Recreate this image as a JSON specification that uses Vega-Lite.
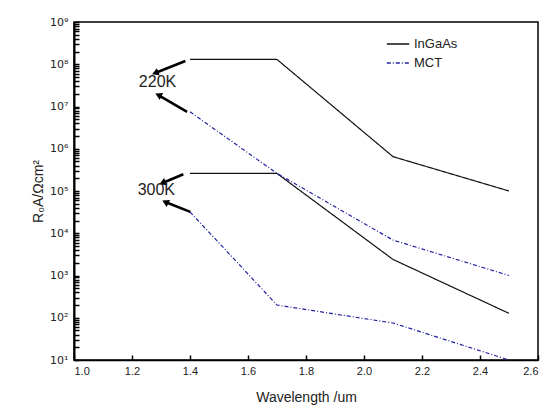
{
  "$schema": "https://vega.github.io/schema/vega-lite/v6.json",
  "autosize": "none",
  "width": 464,
  "height": 338,
  "padding": {"left": 74, "top": 22, "right": 8, "bottom": 50},
  "background": "white",
  "config": {
    "font": "Liberation Sans",
    "view": {"stroke": "black", "strokeWidth": 1.5},
    "axis": {"grid": false, "domainColor": "black", "tickColor": "black", "labelColor": "#222", "titleColor": "#222", "titleFontWeight": "normal", "labelFont": "Liberation Sans", "titleFont": "Liberation Sans"}
  },
  "datasets": {
    "curves": [
      {"material": "InGaAs", "temp": "220K", "wavelength": 1.4, "r0a": 1.3e8},
      {"material": "InGaAs", "temp": "220K", "wavelength": 1.7, "r0a": 1.3e8},
      {"material": "InGaAs", "temp": "220K", "wavelength": 2.1, "r0a": 6.5e5},
      {"material": "InGaAs", "temp": "220K", "wavelength": 2.5, "r0a": 1.0e5},
      {"material": "InGaAs", "temp": "300K", "wavelength": 1.4, "r0a": 2.6e5},
      {"material": "InGaAs", "temp": "300K", "wavelength": 1.7, "r0a": 2.6e5},
      {"material": "InGaAs", "temp": "300K", "wavelength": 2.1, "r0a": 2.4e3},
      {"material": "InGaAs", "temp": "300K", "wavelength": 2.5, "r0a": 127},
      {"material": "MCT", "temp": "220K", "wavelength": 1.4, "r0a": 7.5e6},
      {"material": "MCT", "temp": "220K", "wavelength": 1.7, "r0a": 2.6e5},
      {"material": "MCT", "temp": "220K", "wavelength": 2.1, "r0a": 6.9e3},
      {"material": "MCT", "temp": "220K", "wavelength": 2.5, "r0a": 1.0e3},
      {"material": "MCT", "temp": "300K", "wavelength": 1.4, "r0a": 3.2e4},
      {"material": "MCT", "temp": "300K", "wavelength": 1.7, "r0a": 200},
      {"material": "MCT", "temp": "300K", "wavelength": 2.1, "r0a": 75},
      {"material": "MCT", "temp": "300K", "wavelength": 2.5, "r0a": 10}
    ],
    "arrows": [
      {"pos": "upper", "x": 1.384, "y": 1.19e8, "x2": 1.28, "y2": 6.2e7},
      {"pos": "lower", "x": 1.39, "y": 7.5e6, "x2": 1.291, "y2": 1.87e7},
      {"pos": "upper", "x": 1.377, "y": 2.5e5, "x2": 1.305, "y2": 1.55e5},
      {"pos": "lower", "x": 1.401, "y": 3.2e4, "x2": 1.315, "y2": 5.5e4}
    ],
    "labels": [
      {"label": "220K", "x": 1.288, "y": 3.8e7},
      {"label": "300K", "x": 1.284, "y": 1.06e5}
    ]
  },
  "layer": [
    {
      "data": {"name": "curves"},
      "mark": {"type": "line", "strokeWidth": 1.2},
      "encoding": {
        "x": {
          "field": "wavelength", "type": "quantitative",
          "scale": {"domain": [1.0, 2.6], "nice": false, "zero": false},
          "axis": {
            "title": "Wavelength /um", "titleFontSize": 14, "titlePadding": 14,
            "values": [1.0, 1.1, 1.2, 1.3, 1.4, 1.5, 1.6, 1.7, 1.8, 1.9, 2.0, 2.1, 2.2, 2.3, 2.4, 2.5, 2.6],
            "labelExpr": "round(datum.value*10) % 2 == 0 ? format(datum.value, '.1f') : ''",
            "labelOverlap": false, "labelFontSize": 11, "labelPadding": 10,
            "tickSize": -5, "tickWidth": 1.5,
            "domainWidth": 1.5
          }
        },
        "y": {
          "field": "r0a", "type": "quantitative",
          "scale": {"type": "log", "domain": [10, 1e9], "nice": false},
          "axis": {
            "title": "R₀A/Ωcm²", "titleFontSize": 14, "titlePadding": 4,
            "values": [10, 20, 30, 40, 50, 60, 70, 80, 90, 100, 200, 300, 400, 500, 600, 700, 800, 900, 1000, 2000, 3000, 4000, 5000, 6000, 7000, 8000, 9000, 10000, 20000, 30000, 40000, 50000, 60000, 70000, 80000, 90000, 100000, 200000, 300000, 400000, 500000, 600000, 700000, 800000, 900000, 1000000, 2000000, 3000000, 4000000, 5000000, 6000000, 7000000, 8000000, 9000000, 10000000, 20000000, 30000000, 40000000, 50000000, 60000000, 70000000, 80000000, 90000000, 100000000, 200000000, 300000000, 400000000, 500000000, 600000000, 700000000, 800000000, 900000000, 1000000000],
            "labelExpr": "abs(log(datum.value)/LN10 - round(log(datum.value)/LN10)) < 0.001 ? '10' + slice('⁰¹²³⁴⁵⁶⁷⁸⁹', round(log(datum.value)/LN10), round(log(datum.value)/LN10) + 1) : ''",
            "labelOverlap": false, "labelFontSize": 11, "labelFont": "DejaVu Sans", "labelPadding": 11,
            "tickSize": -5, "tickWidth": 1.5,
            "domainWidth": 2
          }
        },
        "color": {
          "field": "material", "type": "nominal",
          "scale": {"domain": ["InGaAs", "MCT"], "range": ["#111111", "#2222a0"]},
          "legend": {"title": null, "orient": "none", "legendX": 312, "legendY": 10, "labelFontSize": 13, "symbolType": "stroke", "symbolSize": 500, "symbolStrokeWidth": 1.3, "rowPadding": -2, "labelColor": "#222"}
        },
        "strokeDash": {
          "field": "material", "type": "nominal",
          "scale": {"domain": ["InGaAs", "MCT"], "range": [[1, 0], [4, 2, 1, 2]]},
          "legend": {"title": null, "orient": "none", "legendX": 312, "legendY": 10, "labelFontSize": 13, "symbolType": "stroke", "symbolSize": 500, "symbolStrokeWidth": 1.3, "rowPadding": -2, "labelColor": "#222"}
        },
        "detail": {"field": "temp"}
      }
    },
    {
      "data": {"name": "arrows"},
      "mark": {"type": "rule", "strokeWidth": 2.6, "color": "black"},
      "encoding": {
        "x": {"field": "x", "type": "quantitative"},
        "y": {"field": "y", "type": "quantitative"},
        "x2": {"field": "x2"},
        "y2": {"field": "y2"}
      }
    },
    {
      "data": {"name": "arrows"},
      "transform": [{"filter": "datum.pos == 'upper'"}],
      "mark": {"type": "point", "shape": "triangle-up", "filled": true, "color": "black", "size": 60, "angle": 248, "opacity": 1},
      "encoding": {
        "x": {"field": "x2", "type": "quantitative"},
        "y": {"field": "y2", "type": "quantitative"}
      }
    },
    {
      "data": {"name": "arrows"},
      "transform": [{"filter": "datum.pos == 'lower'"}],
      "mark": {"type": "point", "shape": "triangle-up", "filled": true, "color": "black", "size": 60, "angle": 296, "opacity": 1},
      "encoding": {
        "x": {"field": "x2", "type": "quantitative"},
        "y": {"field": "y2", "type": "quantitative"}
      }
    },
    {
      "data": {"name": "labels"},
      "mark": {"type": "text", "fontSize": 16, "color": "#222", "font": "Liberation Sans"},
      "encoding": {
        "x": {"field": "x", "type": "quantitative"},
        "y": {"field": "y", "type": "quantitative"},
        "text": {"field": "label"}
      }
    }
  ]
}
